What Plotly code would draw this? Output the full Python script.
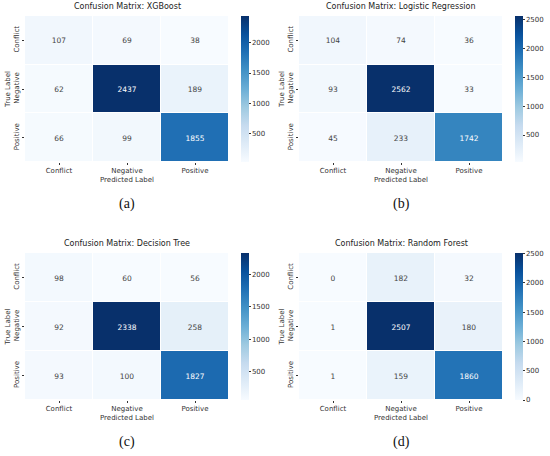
import plotly.graph_objs as go
from plotly.colors import sequential

labels = ["Conflict", "Negative", "Positive"]

titles = ["Confusion Matrix: XGBoost", "Confusion Matrix: Logistic Regression",
          "Confusion Matrix: Decision Tree", "Confusion Matrix: Random Forest"]
captions = ["(a)", "(b)", "(c)", "(d)"]

cm_xgb = [[107, 69, 38], [62, 2437, 189], [66, 99, 1855]]
cm_lr = [[104, 74, 36], [93, 2562, 33], [45, 233, 1742]]
cm_dt = [[98, 60, 56], [92, 2338, 258], [93, 100, 1827]]
cm_rf = [[0, 182, 32], [1, 2507, 180], [1, 159, 1860]]

cbar_ticks = [[500, 1000, 1500, 2000],
              [500, 1000, 1500, 2000, 2500],
              [500, 1000, 1500, 2000],
              [0, 500, 1000, 1500, 2000, 2500]]

W, H = 550, 456
font = "DejaVu Sans"
grey = "#333"

# pixel boxes of each heatmap: left, right, top, bottom
boxes = [(25, 229, 16, 162), (299, 503, 16, 162),
         (25, 229, 253, 400), (299, 503, 253, 400)]

fig = go.Figure()
for i, cm in enumerate([cm_xgb, cm_lr, cm_dt, cm_rf]):
    l, r, t, b = boxes[i]
    n = "" if i == 0 else str(i + 1)
    fig.add_trace(go.Heatmap(
        z=cm, x=labels, y=labels,
        colorscale=sequential.Blues,
        xgap=1, ygap=1,
        texttemplate="%{z}",
        textfont=dict(family=font, size=7.5),
        xaxis="x" + n, yaxis="y" + n,
        colorbar=dict(x=(r + 12) / W, xanchor="left", xpad=0,
                      y=1 - b / H, yanchor="bottom", ypad=0,
                      len=(b - t) / H, lenmode="fraction",
                      thickness=8, outlinewidth=0,
                      tickvals=cbar_ticks[i], ticks="outside", ticklen=2,
                      tickcolor=grey, tickfont=dict(family=font, size=7, color=grey)),
    ))
    fig.layout["xaxis" + n] = dict(domain=[l / W, r / W], anchor="y" + n,
                                   ticks="outside", ticklen=2, tickcolor=grey,
                                   tickfont=dict(family=font, size=7, color=grey),
                                   title=dict(text="Predicted Label", standoff=2,
                                              font=dict(family=font, size=7, color=grey)),
                                   showgrid=False, zeroline=False)
    fig.layout["yaxis" + n] = dict(domain=[1 - b / H, 1 - t / H], anchor="x" + n,
                                   autorange="reversed", tickangle=-90,
                                   ticks="outside", ticklen=2, tickcolor=grey,
                                   tickfont=dict(family=font, size=7, color=grey),
                                   title=dict(text="True Label", standoff=1,
                                              font=dict(family=font, size=7, color=grey)),
                                   showgrid=False, zeroline=False)
    fig.add_annotation(text=titles[i], x=(l + r) / 2 / W, y=1 - (t - 3) / H,
                       xref="paper", yref="paper", xanchor="center", yanchor="bottom",
                       showarrow=False, font=dict(family=font, size=8, color="#222"))
    fig.add_annotation(text=captions[i], x=(l + r) / 2 / W, y=1 - (b + 42) / H,
                       xref="paper", yref="paper", xanchor="center", yanchor="middle",
                       showarrow=False, font=dict(family="Liberation Serif", size=14, color="#111"))

fig.update_layout(width=W, height=H, margin=dict(l=0, r=0, t=0, b=0),
                  plot_bgcolor="white", paper_bgcolor="white", showlegend=False)
fig.write_html("out.html", config={"displayModeBar": False},
               post_script="document.body.style.margin='0';")
